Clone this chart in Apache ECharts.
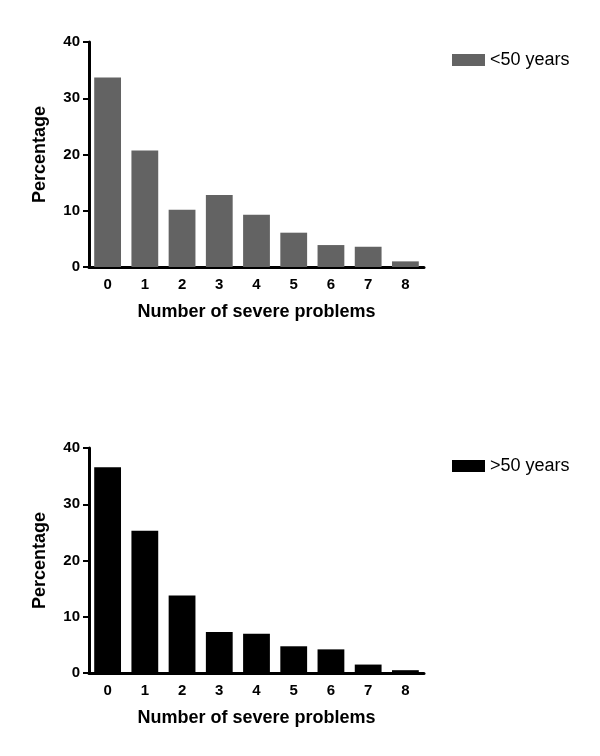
<!DOCTYPE html>
<html>
<head>
<meta charset="utf-8">
<script src="https://cdn.jsdelivr.net/npm/echarts@6/dist/echarts.min.js"></script>
<style>html,body{margin:0;padding:0;background:#fff;}#c{width:600px;height:756px;}</style>
</head>
<body>
<div id="c"></div>
<script>
const categories = ['0','1','2','3','4','5','6','7','8'];
const under50 = [33.7, 20.7, 10.2, 12.8, 9.3, 6.1, 3.9, 3.6, 1.0];
const over50 = [36.6, 25.3, 13.8, 7.3, 7.0, 4.75, 4.2, 1.5, 0.5];
const seriesNames = ['<50 years', '>50 years'];
const xTitle = 'Number of severe problems';
const yTitle = 'Percentage';

const FONT = 'Liberation Sans, Arial, sans-serif';
const chart = echarts.init(document.getElementById('c'), null, {renderer: 'canvas'});

function xAxis(gi) {
  return {
    type: 'category', gridIndex: gi, data: categories, boundaryGap: true,
    name: xTitle, nameLocation: 'middle', nameGap: 36,
    nameTextStyle: {fontFamily: FONT, fontWeight: 'bold', fontSize: 18, color: '#000'},
    axisLine: {lineStyle: {color: '#000', width: 3}},
    axisTick: {alignWithLabel: true, length: 7, lineStyle: {color: '#000', width: 2}},
    axisLabel: {fontFamily: FONT, fontWeight: 'bold', fontSize: 15, color: '#000', margin: 10},
    splitLine: {show: false}
  };
}
function yAxis(gi) {
  return {
    type: 'value', gridIndex: gi, min: 0, max: 40, interval: 10,
    name: yTitle, nameLocation: 'middle', nameGap: 40, nameRotate: 90,
    nameTextStyle: {fontFamily: FONT, fontWeight: 'bold', fontSize: 18, color: '#000'},
    axisLine: {show: true, lineStyle: {color: '#000', width: 3}},
    axisTick: {show: true, length: 6, lineStyle: {color: '#000', width: 2}},
    axisLabel: {fontFamily: FONT, fontWeight: 'bold', fontSize: 15, color: '#000', margin: 9},
    splitLine: {show: false}
  };
}

chart.setOption({
  animation: false,
  backgroundColor: '#fff',
  grid: [
    {left: 89, top: 42, width: 335, height: 225},
    {left: 89, top: 448, width: 335, height: 225}
  ],
  legend: [
    {data: [seriesNames[0]], icon: 'rect', left: 447, top: 46, itemWidth: 33, itemHeight: 12, itemGap: 5,
     textStyle: {fontFamily: FONT, fontSize: 18, color: '#000'}},
    {data: [seriesNames[1]], icon: 'rect', left: 447, top: 452, itemWidth: 33, itemHeight: 12, itemGap: 5,
     textStyle: {fontFamily: FONT, fontSize: 18, color: '#000'}}
  ],
  xAxis: [xAxis(0), xAxis(1)],
  yAxis: [yAxis(0), yAxis(1)],
  series: [
    {name: seriesNames[0], type: 'bar', xAxisIndex: 0, yAxisIndex: 0, data: under50,
     barCategoryGap: '28%', itemStyle: {color: '#636363'}},
    {name: seriesNames[1], type: 'bar', xAxisIndex: 1, yAxisIndex: 1, data: over50,
     barCategoryGap: '28%', itemStyle: {color: '#000000'}}
  ]
});
</script>
</body>
</html>
